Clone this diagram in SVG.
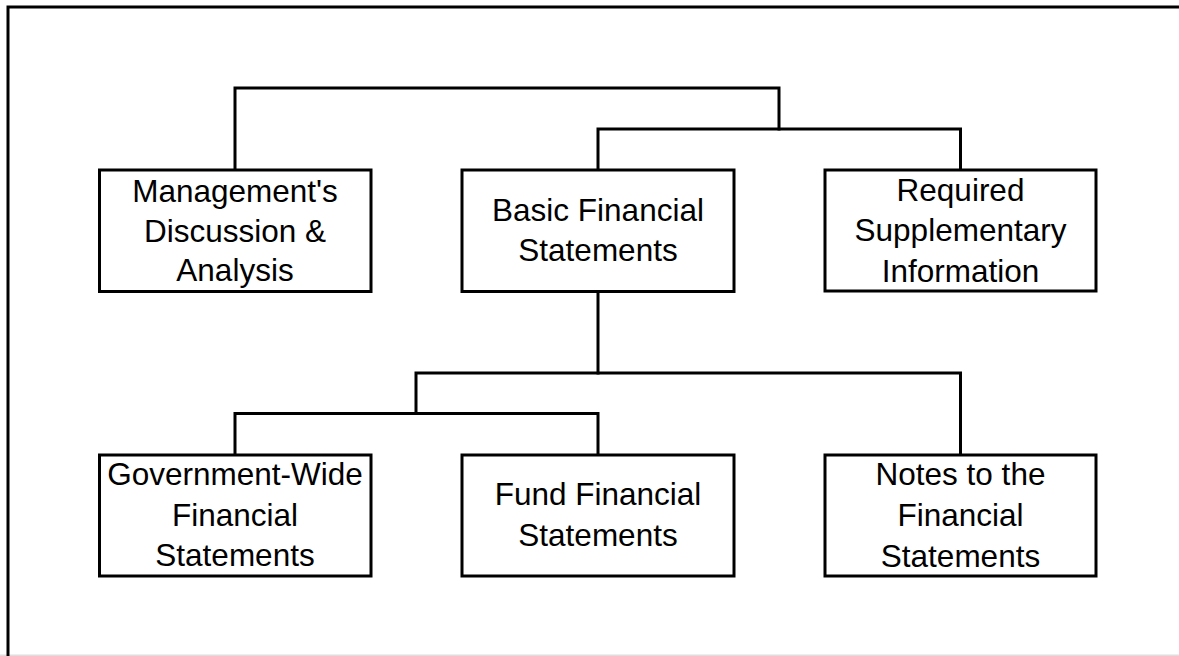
<svg xmlns="http://www.w3.org/2000/svg" width="1179" height="656" viewBox="0 0 1179 656">
<style>
.box{fill:#fff;stroke:#000;stroke-width:3}
.ln{fill:none;stroke:#000;stroke-width:3;stroke-linecap:square}
.t{font-family:"Liberation Sans",Arial,sans-serif;font-size:31.5px;fill:#000;text-anchor:middle}
</style>
<rect width="1179" height="656" fill="#fff"/>
<g id="frame">
<line x1="0" y1="655.3" x2="1179" y2="655.3" stroke="#dedede" stroke-width="1.5"/>
<polyline class="ln" points="8,655 8,7 1179,7"/>
</g>
<g id="connectors">
<polyline class="ln" points="235,170 235,88 779,88 779,129"/>
<polyline class="ln" points="598,170 598,129 960.5,129 960.5,170"/>
<polyline class="ln" points="598,291 598,373"/>
<polyline class="ln" points="416,413.5 416,373 960.5,373 960.5,455"/>
<polyline class="ln" points="235,455 235,413.5 598,413.5 598,455"/>
</g>
<g id="mdna">
<rect class="box" x="99.5" y="170" width="271.5" height="121.5"/>
<text class="t" x="235" y="201.5">Management's</text>
<text class="t" x="235" y="242">Discussion &amp;</text>
<text class="t" x="235" y="281">Analysis</text>
</g>
<g id="bfs">
<rect class="box" x="462" y="170" width="272" height="121.5"/>
<text class="t" x="598" y="221">Basic Financial</text>
<text class="t" x="598" y="261">Statements</text>
</g>
<g id="rsi">
<rect class="box" x="825" y="170" width="271" height="121"/>
<text class="t" x="960.5" y="200.5">Required</text>
<text class="t" x="960.5" y="240.5">Supplementary</text>
<text class="t" x="960.5" y="282">Information</text>
</g>
<g id="gw">
<rect class="box" x="99.5" y="455" width="271.5" height="121"/>
<text class="t" x="235" y="485">Government-Wide</text>
<text class="t" x="235" y="525.5">Financial</text>
<text class="t" x="235" y="566">Statements</text>
</g>
<g id="fund">
<rect class="box" x="462" y="455" width="272" height="121"/>
<text class="t" x="598" y="505">Fund Financial</text>
<text class="t" x="598" y="546">Statements</text>
</g>
<g id="notes">
<rect class="box" x="825" y="455" width="271" height="121"/>
<text class="t" x="960.5" y="485">Notes to the</text>
<text class="t" x="960.5" y="525.5">Financial</text>
<text class="t" x="960.5" y="566.5">Statements</text>
</g>
</svg>
